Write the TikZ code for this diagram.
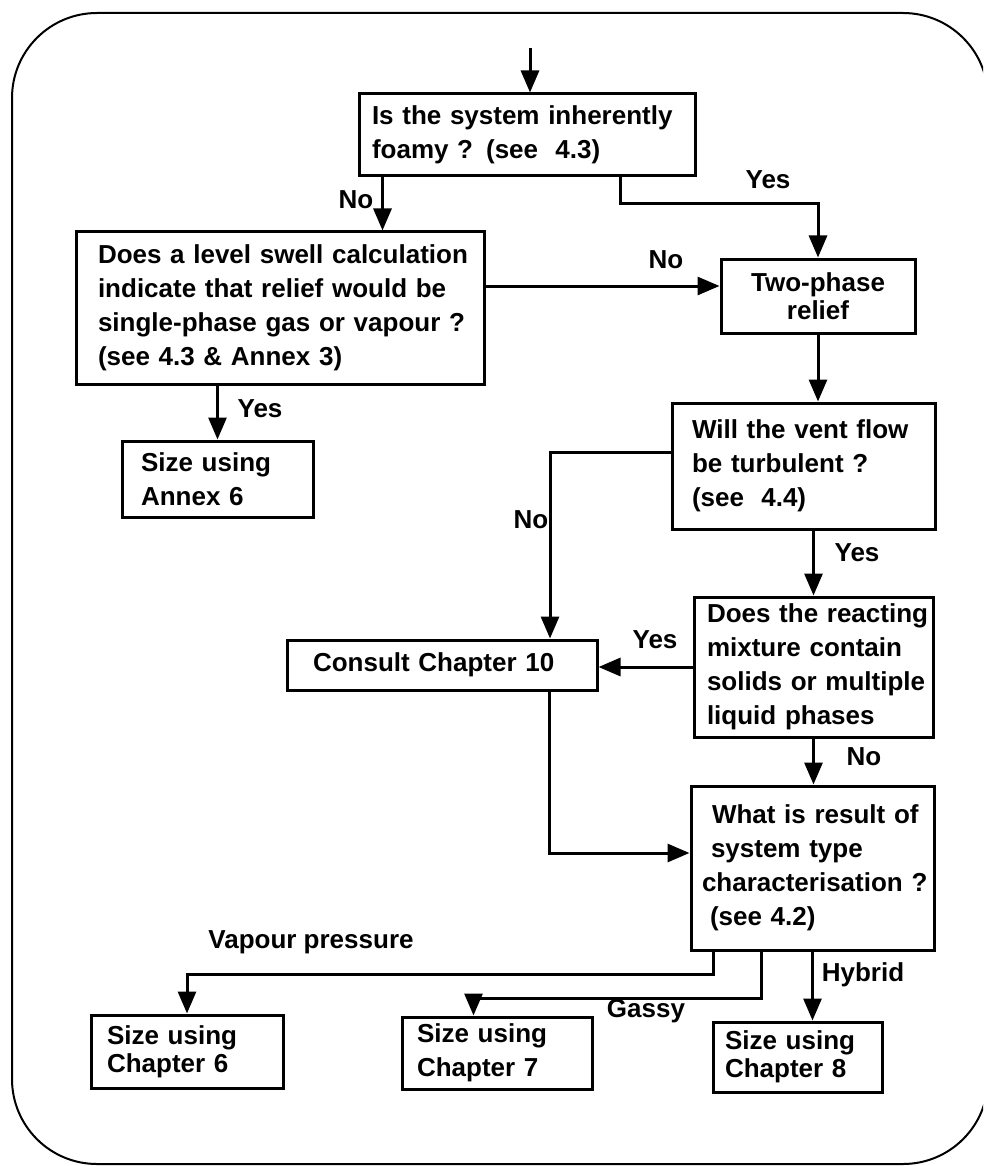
\documentclass[tikz,border=0pt]{standalone}
\usepackage{fontspec}
\setmainfont{Liberation Sans}
\usetikzlibrary{arrows.meta}

\begin{document}
\begin{tikzpicture}[x=1pt,y=-1pt,
  lbl/.style={font=\bfseries\fontsize{26}{34}\selectfont, inner sep=0pt},
  box/.style n args={4}{draw, line width=3pt,
    font=\bfseries\fontsize{26}{34}\selectfont,
    minimum width=#1pt, minimum height=#2pt, text width=#3pt,
    inner xsep=#4pt, inner ysep=0pt, align=left},
  tight/.style={font=\bfseries\fontsize{26}{28}\selectfont},
  arr/.style={line width=3pt, -{Triangle[length=22pt,width=18pt]}},
  frame/.style={line width=2pt, rounded corners=85pt},
]
\useasboundingbox (0,0) rectangle (983,1166);
\clip (0,0) rectangle (983,1166);

% outer rounded frame
\draw[frame] (12,13) rectangle (988,1164);

% decision and action boxes
\node[box={336}{82}{310}{13}] (q1) at (527,135)
  {\mbox{Is the system inherently}\\\mbox{foamy ? (see\ \ 4.3)}};
\node[box={408}{152}{364}{22}] (q2) at (280,308)
  {\mbox{Does a level swell calculation}\\\mbox{indicate that relief would be}\\
   \mbox{single-phase gas or vapour ?}\\\mbox{(see 4.3 \& Annex 3)}};
\node[box={191}{76}{153}{19}] (annex) at (217.5,479)
  {\mbox{Size using}\\\mbox{Annex 6}};
\node[box={194}{74}{174}{10}, tight, align=center] (two) at (818,296)
  {Two-phase\\relief};
\node[box={263}{126}{223}{20}] (vent) at (803.5,466)
  {\mbox{Will the vent flow}\\\mbox{be turbulent ?}\\\mbox{(see\ \ 4.4)}};
\node[box={310}{50}{258}{26}] (consult) at (442,665)
  {\mbox{Consult Chapter 10}};
\node[box={239}{140}{213}{13}] (react) at (813.5,667)
  {\mbox{Does the reacting}\\\mbox{mixture contain}\\
   \mbox{solids or multiple}\\\mbox{liquid phases}};
\node[box={243}{164}{221}{11}] (result) at (812.5,868)
  {\mbox{\hspace*{10pt}What is result of}\\\mbox{\hspace*{9pt}system type}\\
   \mbox{characterisation ?}\\\mbox{\hspace*{8pt}(see 4.2)}};
\node[box={192}{73}{160}{16}, tight] (ch6) at (187,1051.5)
  {\mbox{Size using}\\\mbox{Chapter 6}};
\node[box={190}{72}{160}{15}] (ch7) at (497,1053)
  {\mbox{Size using}\\\mbox{Chapter 7}};
\node[box={169}{70}{145}{12}, tight] (ch8) at (797.5,1057)
  {\mbox{Size using}\\\mbox{Chapter 8}};

% connectors
\coordinate (start) at (530,48);
\draw[arr] (start) -- (start |- q1.north);

\coordinate (s1) at ([xshift=25pt]q1.south west);
\draw[arr] (s1) -- (s1 |- q2.north);

\coordinate (s2) at ([xshift=263pt]q1.south west);
\draw[arr] (s2) -- ++(0,26) -| (two.north);

\coordinate (tw) at ([yshift=10pt]two.west);
\draw[arr] (q2.east |- tw) -- (tw);

\draw[arr] (annex.north |- q2.south) -- (annex.north);

\draw[arr] (two.south) -- (two.south |- vent.north);

\coordinate (vw) at ([yshift=14pt]vent.west);
\coordinate (cn) at ([xshift=108pt]consult.north);
\draw[arr] (vw) -| (cn);

\draw[arr] (react.north |- vent.south) -- (react.north);

\draw[arr] (react.west) -- (react.west -| consult.east);

\draw[arr] (react.south) -- (react.south |- result.north);

\coordinate (cs) at ([xshift=107pt]consult.south);
\coordinate (rw) at ([yshift=15pt]result.west);
\draw[arr] (cs) |- (rw);

\coordinate (r1) at ([xshift=24pt]result.south west);
\draw[arr] (r1) -- ++(0,23) -| (ch6.north);

\coordinate (r2) at ([xshift=72pt]result.south west);
\coordinate (c7) at ([xshift=73pt]ch7.north west);
\draw[arr] (r2) -- ++(0,47) -| (c7);

\draw[arr] (result.south) -- (result.south |- ch8.north);

% branch labels
\node[lbl] (l1) at (356,200) {No};
\node[lbl] (l2) at (768,180) {Yes};
\node[lbl] (l3) at (666,260) {No};
\node[lbl] (l4) at (260,409) {Yes};
\node[lbl] (l5) at (531,520) {No};
\node[lbl] (l6) at (857,553) {Yes};
\node[lbl] (l7) at (655,640) {Yes};
\node[lbl] (l8) at (864,757) {No};
\node[lbl] (l9) at (311,942) {Vapour pressure};
\node[lbl] (l10) at (646,1011) {Gassy};
\node[lbl] (l11) at (863,975) {Hybrid};
\end{tikzpicture}
\end{document}
